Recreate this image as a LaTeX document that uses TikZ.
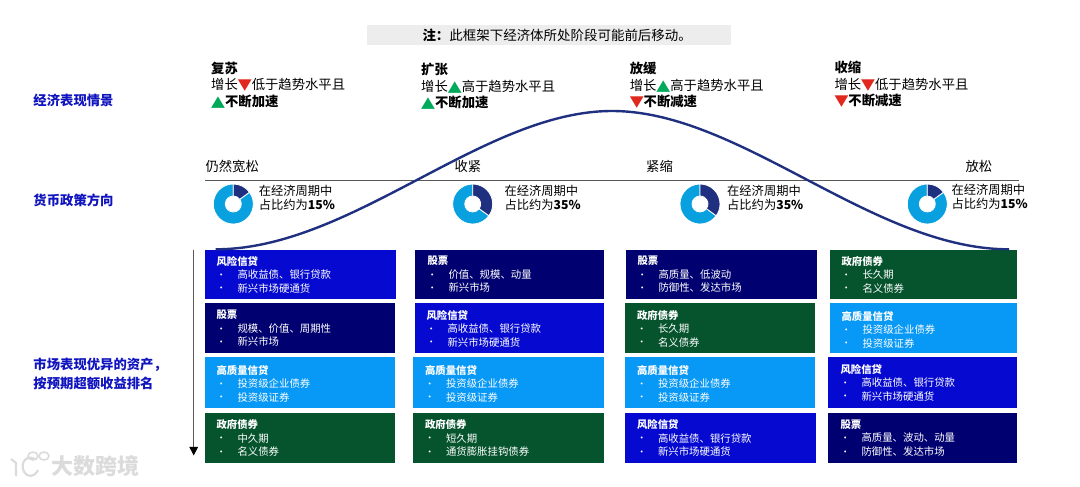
\documentclass[tikz,border=0pt]{standalone}
\usepackage{fontspec}
\setmainfont{Noto Sans CJK SC}
\newfontfamily\glyphfont[FakeStretch=1.2]{DejaVu Sans}
\usetikzlibrary{arrows.meta}

\definecolor{riskblue}{RGB}{6,10,208}
\definecolor{equitynavy}{RGB}{0,0,112}
\definecolor{qualitysky}{RGB}{8,152,246}
\definecolor{govgreen}{RGB}{6,84,46}
\definecolor{curvenavy}{RGB}{32,48,128}
\definecolor{pielight}{RGB}{8,160,222}
\definecolor{labelblue}{RGB}{16,20,190}
\definecolor{upgreen}{RGB}{0,170,90}
\definecolor{downred}{RGB}{225,40,30}

\newcommand{\trup}{\smash{{\glyphfont\fontsize{11.3}{11.3}\selectfont\color{upgreen}▲}}}
\newcommand{\trdown}{\smash{{\glyphfont\fontsize{11.3}{11.3}\selectfont\color{downred}▼}}}
\newcommand{\assetrow}[1]{\makebox[15.75pt][l]{\raisebox{0.2pt}{\scriptsize\textbullet}}#1}

\tikzset{every picture/.style={line width=0.75pt},
  assettext/.style={anchor=west,inner sep=0pt,align=left,text=white,font=\fontsize{7.8}{10.1}\selectfont},
  stagetext/.style={anchor=west,inner sep=0pt,align=left,font=\fontsize{10}{12.4}\selectfont},
  sidetext/.style={anchor=west,inner sep=0pt,align=left,text=labelblue,font=\bfseries\fontsize{10}{14.3}\selectfont},
  policytext/.style={anchor=west,inner sep=0pt,font=\fontsize{10}{12}\selectfont},
  sharetext/.style={anchor=west,inner sep=0pt,align=left,font=\fontsize{9.2}{10.7}\selectfont},
  piedark/.style={fill=curvenavy,draw=white,line width=0.6pt},
  pielite/.style={fill=pielight,draw=white,line width=0.6pt},
  logoline/.style={draw=black!14,line width=1.6pt}}

\begin{document}
\begin{tikzpicture}[x=0.75pt,y=0.75pt,yscale=-1,xscale=1]
\useasboundingbox (0,0) rectangle (1080,486);

%Shape: Note band
\fill [black!7] (367,25) rectangle (730.7,45);
% Text Node
\node (noteline) [anchor=west,inner sep=0pt,font=\fontsize{10.1}{12}\selectfont] at (422,35) {\textbf{注：}此框架下经济体所处阶段可能前后移动。};

% Text Node
\node (stagerecovery) [stagetext] at (210.7,85) {\textbf{复苏}\\增长\trdown 低于趋势水平且\\\trup\textbf{不断加速}};
\node (stageexpansion) [stagetext] at (420.7,86) {\textbf{扩张}\\增长\trup 高于趋势水平且\\\trup\textbf{不断加速}};
\node (stageslowdown) [stagetext] at (629.3,85) {\textbf{放缓}\\增长\trup 高于趋势水平且\\\trdown\textbf{不断减速}};
\node (stagecontraction) [stagetext] at (834,84) {\textbf{收缩}\\增长\trdown 低于趋势水平且\\\trdown\textbf{不断减速}};

% Text Node
\node (sideeconomy) [sidetext] at (33,100) {经济表现情景};
\node (sidepolicy) [sidetext] at (33,200.5) {货币政策方向};
\node (sideassets) [sidetext] at (33,373.5) {市场表现优异的资产，\\按预期超额收益排名};

% Text Node
\node (policyeasy) [policytext] at (205,166.7) {仍然宽松};
\node (policytighten) [policytext] at (454,166.7) {收紧};
\node (policytight) [policytext] at (645.7,166.7) {紧缩};
\node (policyloosen) [policytext] at (965,166.7) {放松};

%Shape: Policy rule
\coordinate (rulestart) at (205,180.4);
\coordinate (ruleend) at (1019,180.4);
\draw [black!65] (rulestart) -- (ruleend);

%Shape: Donut
\filldraw [pielite] (233.3,204) ++(-36:20) arc [start angle=-36,end angle=270,radius=20] -- ++(-90:-12) arc [start angle=270,end angle=-36,radius=8] -- cycle;
\filldraw [piedark] (233.3,204) ++(-90:20) arc [start angle=-90,end angle=-36,radius=20] -- ++(-36:-12) arc [start angle=-36,end angle=-90,radius=8] -- cycle;
%Shape: Donut
\filldraw [pielite] (472.7,204) ++(36:20) arc [start angle=36,end angle=270,radius=20] -- ++(-90:-12) arc [start angle=270,end angle=36,radius=8] -- cycle;
\filldraw [piedark] (472.7,204) ++(-90:20) arc [start angle=-90,end angle=36,radius=20] -- ++(36:-12) arc [start angle=36,end angle=-90,radius=8] -- cycle;
%Shape: Donut
\filldraw [pielite] (700,204) ++(36:20) arc [start angle=36,end angle=270,radius=20] -- ++(-90:-12) arc [start angle=270,end angle=36,radius=8] -- cycle;
\filldraw [piedark] (700,204) ++(-90:20) arc [start angle=-90,end angle=36,radius=20] -- ++(36:-12) arc [start angle=36,end angle=-90,radius=8] -- cycle;
%Shape: Donut
\filldraw [pielite] (927.3,204) ++(-36:20) arc [start angle=-36,end angle=270,radius=20] -- ++(-90:-12) arc [start angle=270,end angle=-36,radius=8] -- cycle;
\filldraw [piedark] (927.3,204) ++(-90:20) arc [start angle=-90,end angle=-36,radius=20] -- ++(-36:-12) arc [start angle=-36,end angle=-90,radius=8] -- cycle;

% Text Node
\node (shareone) [sharetext] at (258.3,198) {在经济周期中\\占比约为\textbf{15\%}};
\node (sharetwo) [sharetext] at (504,198) {在经济周期中\\占比约为\textbf{35\%}};
\node (sharethree) [sharetext] at (726.7,198) {在经济周期中\\占比约为\textbf{35\%}};
\node (sharefour) [sharetext] at (951,197) {在经济周期中\\占比约为\textbf{15\%}};

%Shape: Rectangle (first column)
\fill [riskblue] (205,250) rectangle (395.7,299);
\fill [equitynavy] (205,303.3) rectangle (395,353.3);
\fill [qualitysky] (205,357) rectangle (395,407.7);
\fill [govgreen] (205,413) rectangle (395,462.7);
% Text Node
\node (riskone) [assettext] at (216,274.5) {\textbf{风险信贷}\\\assetrow{高收益债、银行贷款}\\\assetrow{新兴市场硬通货}};
\node (equityone) [assettext] at (216,328.5) {\textbf{股票}\\\assetrow{规模、价值、周期性}\\\assetrow{新兴市场}};
\node (qualityone) [assettext] at (216,383.5) {\textbf{高质量信贷}\\\assetrow{投资级企业债券}\\\assetrow{投资级证券}};
\node (govone) [assettext] at (216,438) {\textbf{政府债券}\\\assetrow{中久期}\\\assetrow{名义债券}};

%Shape: Rectangle (second column)
\fill [equitynavy] (415.3,250) rectangle (604,299);
\fill [riskblue] (415,303.3) rectangle (604,353.3);
\fill [qualitysky] (413.3,357) rectangle (604,407.7);
\fill [govgreen] (413.3,413) rectangle (604,462.7);
% Text Node
\node (equitytwo) [assettext] at (427,274.5) {\textbf{股票}\\\assetrow{价值、规模、动量}\\\assetrow{新兴市场}};
\node (risktwo) [assettext] at (426,328.5) {\textbf{风险信贷}\\\assetrow{高收益债、银行贷款}\\\assetrow{新兴市场硬通货}};
\node (qualitytwo) [assettext] at (424.5,383.5) {\textbf{高质量信贷}\\\assetrow{投资级企业债券}\\\assetrow{投资级证券}};
\node (govtwo) [assettext] at (424.5,438) {\textbf{政府债券}\\\assetrow{短久期}\\\assetrow{通货膨胀挂钩债券}};

%Shape: Rectangle (third column)
\fill [equitynavy] (626,250) rectangle (816.7,299);
\fill [govgreen] (625.3,303.3) rectangle (815,353.3);
\fill [qualitysky] (625.3,357) rectangle (815,407.7);
\fill [riskblue] (625.3,413) rectangle (815.7,462.7);
% Text Node
\node (equitythree) [assettext] at (637,274.5) {\textbf{股票}\\\assetrow{高质量、低波动}\\\assetrow{防御性、发达市场}};
\node (govthree) [assettext] at (636.5,328.5) {\textbf{政府债券}\\\assetrow{长久期}\\\assetrow{名义债券}};
\node (qualitythree) [assettext] at (636.5,383.5) {\textbf{高质量信贷}\\\assetrow{投资级企业债券}\\\assetrow{投资级证券}};
\node (riskthree) [assettext] at (636.5,438) {\textbf{风险信贷}\\\assetrow{高收益债、银行贷款}\\\assetrow{新兴市场硬通货}};

%Shape: Rectangle (fourth column)
\fill [govgreen] (830,250) rectangle (1017.3,299);
\fill [qualitysky] (830,303.3) rectangle (1017.3,353.3);
\fill [riskblue] (828.3,357) rectangle (1017.3,407.7);
\fill [equitynavy] (828.3,413) rectangle (1017.3,462.7);
% Text Node
\node (govfour) [assettext] at (841,274.5) {\textbf{政府债券}\\\assetrow{长久期}\\\assetrow{名义债券}};
\node (qualityfour) [assettext] at (841,329.5) {\textbf{高质量信贷}\\\assetrow{投资级企业债券}\\\assetrow{投资级证券}};
\node (riskfour) [assettext] at (840,382.5) {\textbf{风险信贷}\\\assetrow{高收益债、银行贷款}\\\assetrow{新兴市场硬通货}};
\node (equityfour) [assettext] at (840,438) {\textbf{股票}\\\assetrow{高质量、波动、动量}\\\assetrow{防御性、发达市场}};

%Shape: Cycle curve
\draw [curvenavy,line width=1.8pt] (215.7,249.3) .. controls (352,249.3) and (483,111) .. (612,111) .. controls (741,111) and (872.7,249.3) .. (1009,249.3);

%Shape: Rank arrow
\coordinate (rankstart) at (193.7,250);
\coordinate (rankend) at (193.7,455.5);
\draw [black!65,-{Triangle[black,length=6.5pt,width=6.5pt]}] (rankstart) -- (rankend);

%Shape: Watermark logo
\draw [logoline] (11,459) -- (16,463) -- (16,476);
\draw [logoline] (35,459) .. controls (24,453) and (18,468) .. (27,475) .. controls (32,478) and (37,473) .. (38,470);
\draw [logoline,line width=1.2pt] (33,456) ellipse [x radius=5,y radius=4];
\draw [logoline,line width=1.2pt] (44,456) ellipse [x radius=5,y radius=4];
% Text Node
\node (watermark) [anchor=west,inner sep=0pt,text=black!14,font=\bfseries\fontsize{16.5}{18}\selectfont] at (51,466.5) {大数跨境};

\end{tikzpicture}
\end{document}
